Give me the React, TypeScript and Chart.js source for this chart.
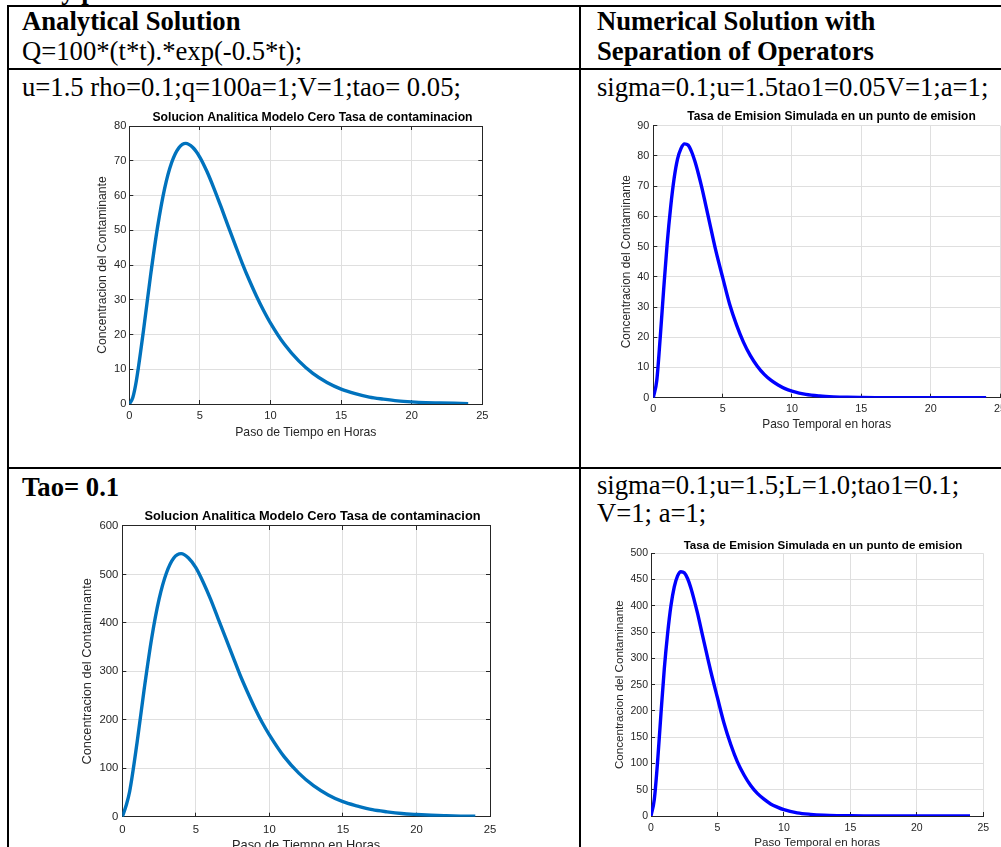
import React, { useEffect, useRef } from "react";
import { Chart, registerables } from "chart.js";

Chart.register(...registerables);

// ---------------- data ----------------
const hoursAnalytic = [
  0, 0.25, 0.5, 1, 1.5, 2, 2.5, 3, 3.5, 4, 4.5, 5, 5.5, 6, 6.5, 7, 7.5, 8, 8.5, 9, 9.5, 10,
  11, 12, 13, 14, 15, 16, 17, 18, 19, 20, 21, 22, 23, 24,
];
const concAnalyticTao005 = [
  0, 1.9, 6.7, 21.0, 36.8, 50.9, 62.0, 69.5, 73.7, 75.0, 73.8, 71.0, 66.9, 62.0, 56.7, 51.2, 45.8,
  40.5, 35.6, 31.1, 27.0, 23.3, 17.1, 12.4, 8.8, 6.2, 4.3, 3.0, 2.0, 1.4, 0.9, 0.6, 0.4, 0.3, 0.2, 0.1,
];
const concAnalyticTao01 = [
  0, 22, 52, 152, 266, 369, 449, 503, 534, 543, 534, 514, 484, 449, 410, 371, 332, 293, 258, 225,
  195, 169, 124, 90, 64, 45, 31, 22, 14.5, 10, 6.5, 4.5, 3, 2, 1.2, 0.8,
];

const hoursNumeric = [
  0, 0.25, 0.5, 0.75, 1, 1.25, 1.5, 1.75, 2, 2.25, 2.5, 2.75, 3, 3.25, 3.5, 3.75, 4, 4.5, 5, 5.5,
  6, 6.5, 7, 7.5, 8, 8.5, 9, 9.5, 10, 11, 12, 13, 14, 15, 16, 17, 18, 19, 20, 21, 22, 23, 24,
];
const concNumericTao005 = [
  0, 5.7, 20, 36, 51, 63, 72.5, 79, 82.5, 84, 83.6, 81.5, 78.2, 74.1, 69.5, 64.4, 59.2, 48.8, 39.8,
  31.0, 24.1, 18.4, 13.9, 10.4, 7.7, 5.7, 4.2, 3.0, 2.2, 1.1, 0.57, 0.29, 0.14, 0.07, 0.03, 0.02,
  0.01, 0, 0, 0, 0, 0, 0,
];
const concNumericTao01 = [
  0, 32, 105, 195, 280, 347, 400, 436, 457, 465, 463, 452, 434, 411, 386, 358, 330, 275, 225, 176,
  136, 103, 78, 58, 43, 32, 23, 17, 12, 6, 3.2, 1.6, 0.8, 0.4, 0.2, 0.1, 0, 0, 0, 0, 0, 0, 0,
];

const xTickValues = [0, 5, 10, 15, 20, 25];
const yTicksAnalyticTao005 = [0, 10, 20, 30, 40, 50, 60, 70, 80];
const yTicksNumericTao005 = [0, 10, 20, 30, 40, 50, 60, 70, 80, 90];
const yTicksAnalyticTao01 = [0, 100, 200, 300, 400, 500, 600];
const yTicksNumericTao01 = [0, 50, 100, 150, 200, 250, 300, 350, 400, 450, 500];

const titleAnalytic = "Solucion Analitica Modelo Cero Tasa de contaminacion";
const titleNumeric = "Tasa de Emision Simulada en un punto de emision";
const xLabelAnalytic = "Paso de Tiempo en Horas";
const xLabelNumeric = "Paso Temporal en horas";
const yLabel = "Concentracion del Contaminante";

// ---------------- styling ----------------
const FONT_SANS = "'Liberation Sans', Arial, Helvetica, sans-serif";
const FONT_SERIF = "'Liberation Serif', 'Times New Roman', Times, serif";
const AXIS = "#262626";
const GRID = "#dfdfdf";

type PanelSpec = {
  xs: number[];
  ys: number[];
  xTicks: number[];
  yTicks: number[];
  title: string;
  xLabel: string;
  color: string;
  lineWidth: number;
  box: boolean;
  caL: number;
  caR: number;
  caT: number;
  caB: number;
  titleX: number;
  titleY: number;
  yLabelX: number;
  xLabelY: number;
  titleFs: number;
  labelFs: number;
  tickFs: number;
  yTickGap: number;
  xTickMid: number;
};

function layoutOf(s: PanelSpec) {
  const tLh = s.titleFs * 1.2;
  const lLh = s.labelFs * 1.2;
  const kLh = s.tickFs * 1.2;
  const left = Math.floor(s.yLabelX - lLh / 2);
  const right = Math.max(Math.ceil(2 * s.titleX - left), Math.ceil(s.caR));
  const top = Math.floor(s.titleY - tLh / 2);
  const bottom = Math.ceil(s.xLabelY + lLh / 2);
  return {
    left,
    top,
    width: right - left,
    height: bottom - top,
    wy: s.caL - left,
    wr: right - s.caR,
    hx: bottom - s.caB,
    yTitlePad: s.yLabelX - lLh / 2 - left,
    xTitlePad: bottom - s.xLabelY - lLh / 2,
    titlePadTop: s.titleY - tLh / 2 - top,
    titlePadBottom: s.caT - s.titleY - tLh / 2,
    xTickPad: s.xTickMid - s.caB + 4 - kLh / 2,
    yTickPad: s.yTickGap + 4,
  };
}

function buildConfig(s: PanelSpec, L: ReturnType<typeof layoutOf>): any {
  const tickFont = { family: FONT_SANS, size: s.tickFs };
  const labelFont = { family: FONT_SANS, size: s.labelFs };
  const setTicks = (vals: number[]) => (scale: any) => {
    scale.ticks = vals.map((v) => ({ value: v }));
  };
  const xMin = s.xTicks[0];
  const xMax = s.xTicks[s.xTicks.length - 1];
  const yMin = s.yTicks[0];
  const yMax = s.yTicks[s.yTicks.length - 1];
  const mirror = (pos: string, vals: number[], min: number, max: number, fit: (sc: any) => void) => ({
    type: "linear",
    position: pos,
    min,
    max,
    afterBuildTicks: setTicks(vals),
    afterFit: fit,
    grid: s.box
      ? { drawOnChartArea: false, color: GRID, tickColor: AXIS, tickLength: -4, lineWidth: 1 }
      : { display: false },
    border: { display: s.box, color: AXIS, width: 1 },
    ticks: { display: false },
  });
  return {
    type: "line",
    data: {
      datasets: [
        {
          data: s.xs.map((x, i) => ({ x, y: s.ys[i] })),
          borderColor: s.color,
          backgroundColor: s.color,
          borderWidth: s.lineWidth,
          pointRadius: 0,
          fill: false,
          cubicInterpolationMode: "monotone",
          xAxisID: "x",
          yAxisID: "y",
        },
      ],
    },
    options: {
      responsive: false,
      maintainAspectRatio: false,
      animation: false,
      events: [],
      layout: { padding: 0 },
      plugins: {
        legend: { display: false },
        tooltip: { enabled: false },
        title: {
          display: true,
          text: s.title,
          color: "#000",
          font: { family: FONT_SANS, size: s.titleFs, weight: "bold" },
          padding: { top: L.titlePadTop, bottom: L.titlePadBottom },
        },
      },
      scales: {
        x: {
          type: "linear",
          position: "bottom",
          min: xMin,
          max: xMax,
          afterBuildTicks: setTicks(s.xTicks),
          afterFit: (sc: any) => {
            sc.height = L.hx;
          },
          grid: { color: GRID, tickColor: AXIS, tickLength: -4, lineWidth: 1 },
          border: { color: AXIS, width: 1 },
          ticks: {
            color: AXIS,
            font: tickFont,
            padding: L.xTickPad,
            autoSkip: false,
            maxRotation: 0,
          },
          title: {
            display: true,
            text: s.xLabel,
            color: AXIS,
            font: labelFont,
            padding: { top: 0, bottom: L.xTitlePad },
          },
        },
        y: {
          type: "linear",
          position: "left",
          min: yMin,
          max: yMax,
          afterBuildTicks: setTicks(s.yTicks),
          afterFit: (sc: any) => {
            sc.width = L.wy;
          },
          grid: { color: GRID, tickColor: AXIS, tickLength: -4, lineWidth: 1 },
          border: { color: AXIS, width: 1 },
          ticks: { color: AXIS, font: tickFont, padding: L.yTickPad, autoSkip: false },
          title: {
            display: true,
            text: yLabel,
            color: AXIS,
            font: labelFont,
            padding: { top: L.yTitlePad, bottom: 0 },
          },
        },
        x2: mirror("top", s.xTicks, xMin, xMax, (sc: any) => {
          sc.height = 0;
        }),
        y2: mirror("right", s.yTicks, yMin, yMax, (sc: any) => {
          sc.width = L.wr;
        }),
      },
    },
  };
}

function MatlabPanel({ spec }: { spec: PanelSpec }) {
  const ref = useRef<HTMLCanvasElement>(null);
  const L = layoutOf(spec);
  useEffect(() => {
    const chart = new Chart(ref.current as HTMLCanvasElement, buildConfig(spec, L));
    return () => chart.destroy();
  }, []);
  return (
    <canvas
      ref={ref}
      width={L.width}
      height={L.height}
      style={{ position: "absolute", left: L.left, top: L.top, width: L.width, height: L.height }}
    />
  );
}

const panels: PanelSpec[] = [
  {
    xs: hoursAnalytic, ys: concAnalyticTao005, xTicks: xTickValues, yTicks: yTicksAnalyticTao005,
    title: titleAnalytic, xLabel: xLabelAnalytic, color: "#0072BD", lineWidth: 3.4, box: true,
    caL: 129.3, caR: 482.3, caT: 126, caB: 404, titleX: 312.3, titleY: 117.3,
    yLabelX: 102.5, xLabelY: 432.3, titleFs: 12.2, labelFs: 12.2, tickFs: 11.1, yTickGap: 3, xTickMid: 416,
  },
  {
    xs: hoursNumeric, ys: concNumericTao005, xTicks: xTickValues, yTicks: yTicksNumericTao005,
    title: titleNumeric, xLabel: xLabelNumeric, color: "#0000FF", lineWidth: 3.4, box: false,
    caL: 653.3, caR: 1000, caT: 125.7, caB: 397.7, titleX: 831.2, titleY: 117,
    yLabelX: 626.7, xLabelY: 425, titleFs: 12, labelFs: 11.9, tickFs: 10.8, yTickGap: 4, xTickMid: 409,
  },
  {
    xs: hoursAnalytic, ys: concAnalyticTao01, xTicks: xTickValues, yTicks: yTicksAnalyticTao01,
    title: titleAnalytic, xLabel: xLabelAnalytic, color: "#0072BD", lineWidth: 3.4, box: true,
    caL: 122.3, caR: 490, caT: 526, caB: 816.7, titleX: 312.5, titleY: 516.7,
    yLabelX: 87, xLabelY: 845.3, titleFs: 12.8, labelFs: 12.8, tickFs: 11.3, yTickGap: 4, xTickMid: 829.5,
  },
  {
    xs: hoursNumeric, ys: concNumericTao01, xTicks: xTickValues, yTicks: yTicksNumericTao01,
    title: titleNumeric, xLabel: xLabelNumeric, color: "#0000FF", lineWidth: 3.4, box: false,
    caL: 651, caR: 983.3, caT: 553.3, caB: 816, titleX: 822.8, titleY: 545.7,
    yLabelX: 619.3, xLabelY: 842.5, titleFs: 11.6, labelFs: 11.6, tickFs: 10.5, yTickGap: 3, xTickMid: 828.3,
  },
];

const textLines = [
  { x: 8, baseline: -1, bold: true, text: "Study parameters" },
  { x: 22, baseline: 30, bold: true, text: "Analytical Solution" },
  { x: 22, baseline: 60, bold: false, text: "Q=100*(t*t).*exp(-0.5*t);" },
  { x: 597, baseline: 30, bold: true, text: "Numerical Solution with" },
  { x: 597, baseline: 60, bold: true, text: "Separation of Operators" },
  { x: 22, baseline: 96, bold: false, text: "u=1.5 rho=0.1;q=100a=1;V=1;tao= 0.05;" },
  { x: 597, baseline: 96, bold: false, text: "sigma=0.1;u=1.5tao1=0.05V=1;a=1;" },
  { x: 22, baseline: 496, bold: true, text: "Tao= 0.1" },
  { x: 597, baseline: 494, bold: false, text: "sigma=0.1;u=1.5;L=1.0;tao1=0.1;" },
  { x: 597, baseline: 522, bold: false, text: "V=1; a=1;" },
];

const rules = [
  { left: 7, top: 5, width: 994, height: 2 },
  { left: 7, top: 5, width: 2, height: 842 },
  { left: 579, top: 5, width: 2, height: 842 },
  { left: 7, top: 68, width: 994, height: 2 },
  { left: 7, top: 467, width: 994, height: 2 },
];

export default function App() {
  return (
    <div
      style={{
        position: "absolute",
        left: 0,
        top: 0,
        width: 1001,
        height: 847,
        overflow: "hidden",
        background: "#fff",
      }}
    >
      {rules.map((r, i) => (
        <div key={"r" + i} style={{ position: "absolute", background: "#000", ...r }} />
      ))}
      {textLines.map((t, i) => (
        <div
          key={"t" + i}
          style={{
            position: "absolute",
            left: t.x,
            top: t.baseline - 24,
            fontFamily: FONT_SERIF,
            fontSize: "26.67px",
            lineHeight: "30px",
            fontWeight: t.bold ? "bold" : "normal",
            whiteSpace: "nowrap",
            color: "#000",
          }}
        >
          {t.text}
        </div>
      ))}
      {panels.map((p, i) => (
        <MatlabPanel key={"p" + i} spec={p} />
      ))}
    </div>
  );
}
